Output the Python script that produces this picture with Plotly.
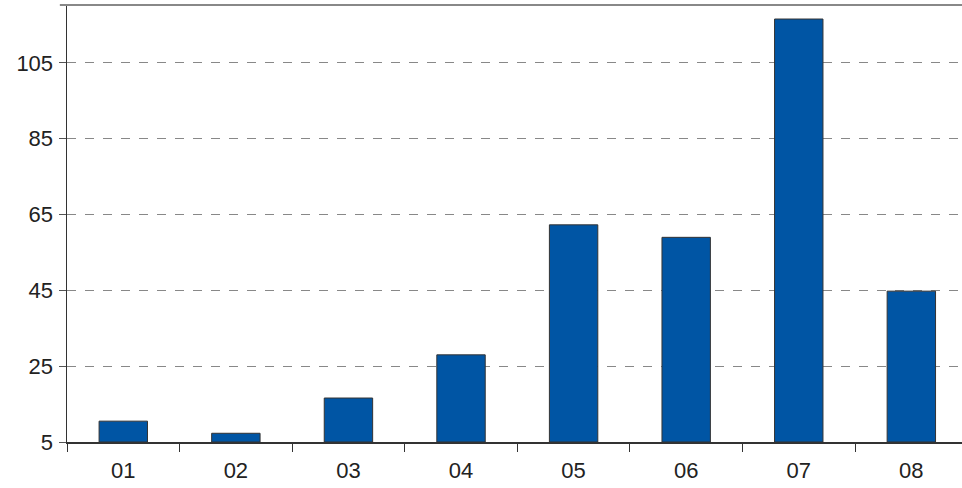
import plotly.graph_objects as go

categories = ["01", "02", "03", "04", "05", "06", "07", "08"]
values = [10.5, 7.3, 16.6, 28.0, 62.3, 59.0, 116.6, 44.8]
y_ticks = [5, 25, 45, 65, 85, 105]

fig = go.Figure()
fig.add_trace(go.Bar(
    x=categories, y=[v - 5 for v in values], base=5,
    width=0.43,
    marker=dict(color="#0055A4", line=dict(color="#333333", width=1)),
    hoverinfo="skip",
))

fig.update_layout(
    width=962, height=488,
    margin=dict(l=67, r=0, t=5, b=46),
    paper_bgcolor="white", plot_bgcolor="white",
    showlegend=False,
    font=dict(family="Liberation Sans, Arial, sans-serif", size=22, color="#222222"),
    xaxis=dict(
        type="category", range=[-0.5, 7.45],
        showline=True, linecolor="#333333", linewidth=1.5,
        ticks="outside", tickson="boundaries", ticklen=8, tickcolor="#333333",
        showgrid=False, fixedrange=True, ticklabelstandoff=8,
    ),
    yaxis=dict(
        range=[5, 120.3], tickvals=y_ticks, fixedrange=True,
        showline=True, linecolor="#333333", linewidth=1.5,
        ticks="outside", ticklen=7, tickcolor="#555555",
        showgrid=True, gridcolor="#888888", griddash="dash", gridwidth=1,
        zeroline=False, ticklabelstandoff=1,
    ),
    shapes=[dict(type="line", xref="paper", yref="paper", x0=-0.008, x1=1, y0=1, y1=1,
                 line=dict(color="#888888", width=2))],
)

fig.write_html(
    "out.html",
    config={"displayModeBar": False, "staticPlot": True},
    post_script=(
        "document.body.style.margin='0';document.body.style.overflow='hidden';"
        "document.documentElement.style.overflow='hidden';"
    ),
)
